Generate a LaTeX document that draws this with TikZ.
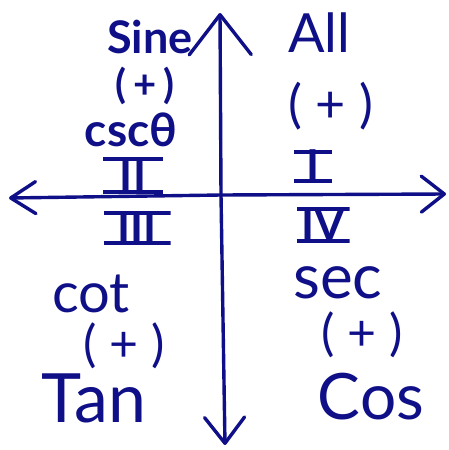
\documentclass[tikz,border=0pt]{standalone}
\usepackage{fontspec}
\setmainfont{Lato}
\usetikzlibrary{arrows.meta,positioning}
\definecolor{inkblue}{RGB}{15,15,135}
\tikzset{
  axisline/.style={line width=3.4pt,color=inkblue,line cap=round,line join=round},
  barbarr/.style 2 args={-{Straight Barb[length=#1,width=#2,round]}},
  quadtext/.style={text=inkblue,inner sep=0pt,anchor=center},
  signtext/.style={quadtext},
  numbox/.style={text=inkblue,inner sep=0pt,anchor=center,text depth=0pt,
    font=\fontsize{44}{44}\selectfont\bfseries,
    path picture={\draw[inkblue,line width=7pt]
      (path picture bounding box.north west) -- (path picture bounding box.north east)
      (path picture bounding box.south west) -- (path picture bounding box.south east);}}
}
\newcommand{\fs}[1]{\fontsize{#1}{#1}\selectfont}
\newcommand{\fsb}[1]{\fontsize{#1}{#1}\selectfont\bfseries}
\begin{document}
\begin{tikzpicture}[x=1pt,y=-1pt]
  \useasboundingbox (0,0) rectangle (449,450);
  % axes
  \coordinate (orig) at (221,195);
  \coordinate (ytop) at (220,13);
  \coordinate (ybot) at (225,445);
  \coordinate (xleft) at (9,198);
  \coordinate (xright) at (446,194);
  \draw[axisline,barbarr={40pt}{62pt}] (orig) -- (ytop);
  \draw[axisline,barbarr={26pt}{40pt}] (orig) -- (ybot);
  \draw[axisline,barbarr={25pt}{32pt}] (orig) -- (xleft);
  \draw[axisline,barbarr={23pt}{36pt}] (orig) -- (xright);
  % quadrant II
  \node[quadtext,font=\fsb{45}] (sine) at (150,37) {Sine};
  \node[signtext,font=\fsb{40}] (s2) at (145,86) {(\,+\,)};
  \node[quadtext,font=\fsb{46}] (csc) at (131,130) {cscθ};
  \node[numbox,minimum width=60pt,minimum height=36pt] (q2) at (133,175) {II};
  % quadrant I
  \node[quadtext,font=\fs{54}] (all) at (319,33) {All};
  \node[signtext,font=\fs{52}] (s1) at (331,106) {( + )};
  \node[numbox,minimum width=38pt,minimum height=32pt] (q1) at (313,166) {I};
  % quadrant III
  \node[numbox,minimum width=67pt,minimum height=33pt] (q3) at (137,228) {III};
  \node[quadtext,font=\fs{56}] (cot) at (91,294) {cot};
  \node[signtext,font=\fs{50}] (s3) at (124,346) {( + )};
  \node[quadtext,font=\fs{68}] (tan) at (94,398) {Tan};
  % quadrant IV
  \node[numbox,minimum width=53pt,minimum height=35pt] (q4) at (323,225) {IV};
  \node[quadtext,font=\fs{62}] (sec) at (338,283) {sec};
  \node[signtext,font=\fs{50}] (s4) at (362,335) {( + )};
  \node[quadtext,font=\fs{64}] (cos) at (371,397) {Cos};
\end{tikzpicture}
\end{document}
